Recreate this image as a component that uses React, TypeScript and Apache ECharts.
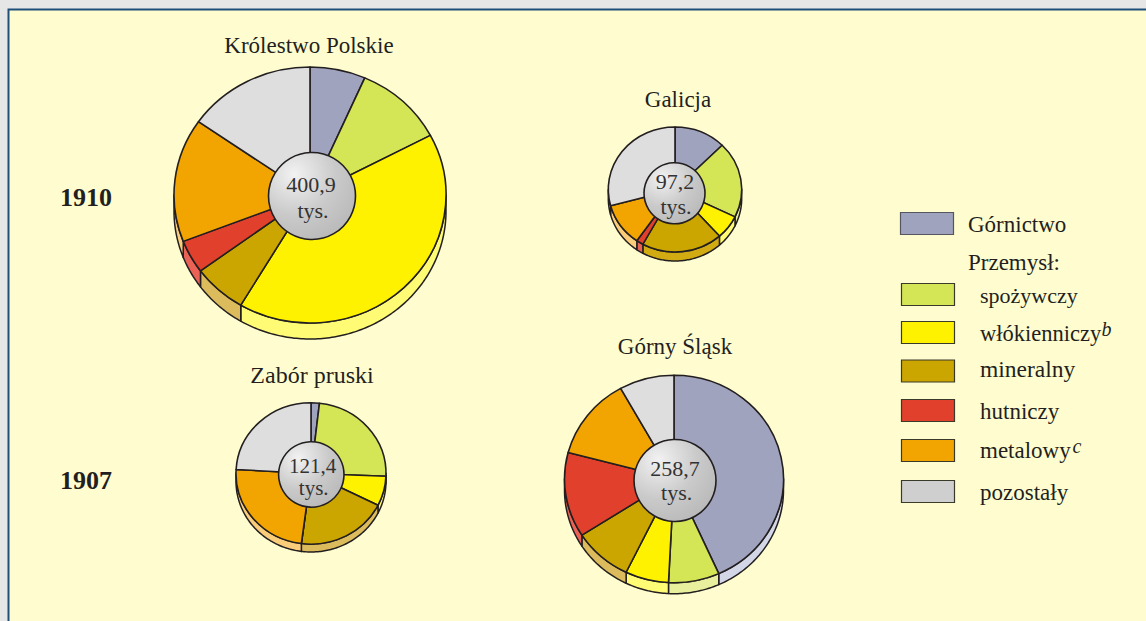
import React, { useEffect, useRef } from "react";
import * as echarts from "echarts";

const categories = ["Górnictwo", "spożywczy", "włókienniczy", "mineralny", "hutniczy", "metalowy", "pozostały"];
const topColors = ["#a0a3bd", "#d4e655", "#fff200", "#cba500", "#e0402c", "#f2a500", "#dedede"];
const rimColors = ["#d2d6e6", "#e8f09e", "#fffb74", "#dcbb5c", "#ea6155", "#f9cd7a", "#e5e5e5"];
const legendColors = ["#a0a3bd", "#d4e655", "#fff200", "#cba500", "#e0402c", "#f2a500", "#cfcfcf"];

const krolestwoValues = [6.6, 10.7, 41.2, 6.4, 4.2, 15.6, 15.3];
const galicjaValues = [12.5, 19.7, 6.2, 19.6, 1.7, 11.1, 29.2];
const zaborValues = [1.8, 23.8, 6.8, 19.6, 0, 23.8, 24.1];
const slaskValues = [43.3, 7.5, 6.4, 8.7, 13.2, 12.8, 8.1];

const INK = "#231f20";
const FONT = '"Liberation Serif", "Times New Roman", serif';

const pies = [
  { title: "Królestwo Polskie", titleX: 309, titleY: 45, titleSize: 23, total: "400,9", size: 22, values: krolestwoValues, cx: 310, cy: 195, rx: 136, ry: 128, depth: 16, hx: 312, hy: 196, hr: 43.5, t1: [311, 184], t2: [313, 210], rim: rimColors },
  { title: "Galicja", titleX: 678, titleY: 99, titleSize: 23, total: "97,2", size: 22, values: galicjaValues, cx: 675, cy: 189.5, rx: 66.7, ry: 62.5, depth: 9, hx: 674.5, hy: 193.3, hr: 30.5, t1: [675, 181.5], t2: [676, 206.5], rim: rimColors.map((c, i) => (i === 3 ? "#d2ab12" : c)) },
  { title: "Zabór pruski", titleX: 312, titleY: 375, titleSize: 24, total: "121,4", size: 21, values: zaborValues, cx: 311, cy: 473.3, rx: 75, ry: 70.7, depth: 8, hx: 311.3, hy: 474.5, hr: 32.7, t1: [312.7, 465.5], t2: [313.7, 488], rim: rimColors },
  { title: "Górny Śląsk", titleX: 675, titleY: 346, titleSize: 23, total: "258,7", size: 22, values: slaskValues, cx: 674, cy: 479, rx: 109.5, ry: 103.7, depth: 11, hx: 675, hy: 480.5, hr: 41, t1: [675, 468], t2: [676.7, 492], rim: rimColors },
];

const legendRows = [
  { idx: 0, y: 212, x: 900, tx: 968, ty: 224, size: 23 },
  { idx: 1, y: 283, x: 901, tx: 980, ty: 295, size: 22 },
  { idx: 2, y: 321, x: 901, tx: 980, ty: 333, size: 22.5 },
  { idx: 3, y: 359.5, x: 901, tx: 980, ty: 369, size: 23.5 },
  { idx: 4, y: 399, x: 901, tx: 980, ty: 411, size: 23 },
  { idx: 5, y: 439, x: 901, tx: 980, ty: 450, size: 23 },
  { idx: 6, y: 480, x: 901, tx: 980, ty: 492, size: 23 },
];

function label(text: string, x: number, y: number, size: number, opts: any = {}) {
  return {
    type: "text",
    x,
    y,
    z: 100,
    silent: true,
    style: {
      text,
      font: `${opts.italic ? "italic " : ""}${opts.weight || "normal"} ${size}px ${FONT}`,
      fill: opts.fill || INK,
      textAlign: opts.align || "center",
      align: opts.align || "center",
      verticalAlign: "middle",
      textVerticalAlign: "middle",
    },
  };
}

export default function App() {
  const ref = useRef<HTMLDivElement>(null);
  useEffect(() => {
    const chart = echarts.init(ref.current!, undefined, { renderer: "svg" });

    const series: any[] = [];
    pies.forEach((p) => {
      const sum = p.values.reduce((a, b) => a + b, 0);
      let acc = 0;
      const spans = p.values.map((v) => {
        const s = [acc, acc + v].map((q) => (q / sum) * 360);
        acc += v;
        return s;
      });
      series.push({
        type: "custom",
        coordinateSystem: "none",
        silent: true,
        z: 1,
        data: p.values.map((v, i) => [i, v]),
        renderItem: (params: any) => {
          const i = params.dataIndex;
          const a0 = Math.max(spans[i][0], 90);
          const a1 = Math.min(spans[i][1], 270);
          if (a1 <= a0 || p.values[i] === 0) return null;
          const n = Math.max(2, Math.ceil(a1 - a0));
          const arc: number[][] = [];
          for (let k = 0; k <= n; k++) {
            const t = ((a0 + ((a1 - a0) * k) / n) * Math.PI) / 180;
            arc.push([p.cx + p.rx * Math.sin(t), p.cy - p.ry * Math.cos(t)]);
          }
          const lower = arc.map(([x, y]) => [x, y + p.depth]).reverse();
          return {
            type: "polygon",
            shape: { points: [...arc, ...lower] },
            style: { fill: p.rim[i], stroke: INK, lineWidth: 1.5, lineJoin: "round" },
          };
        },
      });
      series.push({
        type: "pie",
        name: p.title,
        silent: true,
        z: 2,
        center: [p.cx, p.cy],
        radius: [0, p.rx],
        startAngle: 90,
        clockwise: true,
        label: { show: false },
        labelLine: { show: false },
        emphasis: { disabled: true },
        itemStyle: { borderColor: INK, borderWidth: 1.6 },
        data: p.values.map((value, i) => ({
          name: categories[i],
          value,
          itemStyle: { color: topColors[i] },
        })),
      });
    });

    const graphic: any[] = [
      {
        type: "rect",
        z: -1,
        silent: true,
        shape: { x: 8.5, y: 9.5, width: 1200, height: 700 },
        style: { fill: "#fffdd0", stroke: "#1f4e79", lineWidth: 2 },
      },
    ];

    pies.forEach((p) => {
      graphic.push(label(p.title, p.titleX, p.titleY, p.titleSize));
      graphic.push({
        type: "circle",
        z: 90,
        silent: true,
        shape: { cx: p.hx, cy: p.hy, r: p.hr },
        style: {
          fill: new echarts.graphic.RadialGradient(0.3, 0.25, 0.85, [
            { offset: 0, color: "#f2f2f2" },
            { offset: 0.55, color: "#cacaca" },
            { offset: 1, color: "#b8b8b8" },
          ]),
          stroke: INK,
          lineWidth: 1.6,
        },
      });
      graphic.push(label(p.total, p.t1[0], p.t1[1], p.size, { fill: "#333" }));
      graphic.push(label("tys.", p.t2[0], p.t2[1], p.size, { fill: "#333" }));
    });

    graphic.push(label("1910", 86, 197, 26, { weight: "bold" }));
    graphic.push(label("1907", 86, 480, 26, { weight: "bold" }));

    legendRows.forEach((r) => {
      graphic.push({
        type: "rect",
        z: 50,
        silent: true,
        shape: { x: r.x + 0.5, y: r.y + 0.5, width: 53, height: 22 },
        style: { fill: legendColors[r.idx], stroke: r.idx === 0 ? "#55565f" : "#3a3a2a", lineWidth: 1.2 },
      });
      graphic.push(label(categories[r.idx], r.tx, r.ty, r.size, { align: "left" }));
    });
    graphic.push(label("Przemysł:", 968, 262, 23, { align: "left" }));
    graphic.push(label("b", 1101.5, 329, 20, { align: "left", italic: true }));
    graphic.push(label("c", 1072.5, 446, 20, { align: "left", italic: true }));

    chart.setOption({
      animation: false,
      backgroundColor: "#e6e6e6",
      tooltip: { show: false },
      series,
      graphic,
    });

    // flatten each pie into the slightly oval disc of the reference
    const flatten = () => {
      const zr: any = chart.getZr();
      zr.storage.getDisplayList(true).forEach((el: any) => {
        if (el.type !== "sector") return;
        const p = pies.find((q) => Math.abs(q.cx - el.shape.cx) < 0.01 && Math.abs(q.cy - el.shape.cy) < 0.01);
        if (!p) return;
        el.originX = p.cx;
        el.originY = p.cy;
        el.scaleY = p.ry / p.rx;
        el.markRedraw();
      });
      zr.refreshImmediately?.();
    };
    flatten();

    return () => chart.dispose();
  }, []);

  return <div ref={ref} style={{ position: "absolute", left: 0, top: 0, width: 1146, height: 621 }} />;
}
